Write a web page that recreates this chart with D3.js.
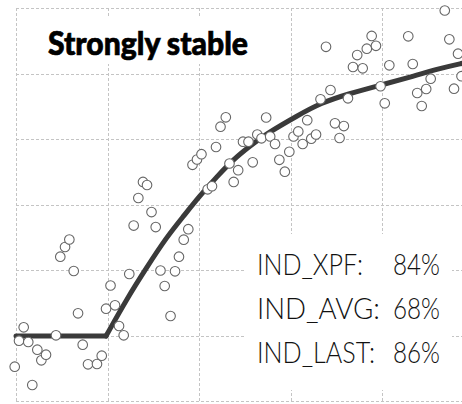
<!DOCTYPE html>
<html>
<head>
<meta charset="utf-8">
<script src="https://cdn.jsdelivr.net/npm/d3@7"></script>
<style>
  html, body { margin: 0; padding: 0; background: #fff; }
  svg { display: block; }
</style>
</head>
<body>
<svg id="chart" width="462" height="404"></svg>
<script>
// Observations (x, y)
const obsX = [-0.14, 0.33, 0.84, 1.34, 1.78, 2.33, 2.77, 3.28, 4.37, 4.84, 5.36, 5.83, 6.31, 6.78, 7.29, 7.87, 8.85, 9.37, 9.84, 10.33,
  10.82, 11.26, 11.77, 12.38, 12.86, 13.37, 13.88, 14.32, 14.81, 15.27, 15.79, 16.25, 16.89, 17.38, 17.81, 18.33, 18.83, 19.29, 19.78, 20.27,
  20.95, 21.42, 21.86, 22.35, 22.93, 23.33, 23.79, 24.28, 24.81, 25.41, 25.87, 26.37, 26.83, 27.34, 27.78, 28.31, 28.78, 29.38, 29.87, 30.33,
  30.85, 31.33, 31.83, 32.27, 32.79, 33.28, 33.88, 34.37, 34.86, 35.36, 35.83, 36.28, 36.83, 37.29, 37.89, 38.34, 38.87, 39.34, 39.84, 40.30,
  40.80, 42.87, 43.36, 43.85, 44.34, 44.83, 45.32, 46.86, 47.36, 47.87, 48.31, 48.69];
const obsY = [5.24, 9.21, 11.25, 9.01, 2.44, 7.83, 6.21, 7.07, 10.03, 22.03, 23.51, 24.66, 19.85, 13.39, 8.60, 5.60, 5.65, 6.92, 14.09, 17.63,
  14.61, 11.45, 10.03, 19.39, 26.79, 30.99, 33.44, 32.98, 28.85, 26.56, 19.92, 17.56, 12.98, 19.80, 22.03, 24.63, 26.23, 36.06, 36.87, 37.68,
  32.32, 32.79, 38.78, 41.88, 43.31, 36.26, 33.44, 35.24, 39.59, 39.59, 36.44, 40.69, 40.11, 43.28, 40.38, 39.24, 36.82, 35.01, 38.05, 40.38,
  41.15, 39.24, 42.87, 40.05, 40.69, 46.06, 54.08, 47.48, 42.40, 40.15, 41.98, 46.21, 50.99, 52.82, 50.79, 53.79, 55.73, 54.23, 48.05, 45.45,
  51.25, 55.68, 51.45, 47.02, 45.04, 47.63, 49.21, 59.62, 55.22, 47.68, 53.02, 49.59];

// Fitted model: flat baseline, then a saturating rise
const flatX = [0, 9.84];
const flatY = [9.92, 9.92];
const riseX = [9.84, 12.10, 14.28, 16.47, 18.28, 20.11, 21.93, 23.75, 25.57, 27.32, 30.79, 33.33, 36.25, 39.89, 43.53, 46.09, 48.74, 50];
const riseY = [9.92, 15.57, 20.38, 25.04, 28.17, 31.37, 34.20, 36.87, 38.93, 40.76, 43.59, 45.50, 46.87, 48.24, 49.62, 50.69, 51.56, 51.9];

const title = "Strongly stable";
const statNames = ["IND_XPF:", "IND_AVG:", "IND_LAST:"];
const statValues = [84, 68, 86];

const xTicks = [0, 10, 20, 30, 40, 50];
const yTicks = [0, 10, 20, 30, 40, 50, 60];

const svg = d3.select("#chart");
const x = d3.scaleLinear().domain([0, 50]).range([16, 473.5]);
const y = d3.scaleLinear().domain([0, 60]).range([401, 8]);

const gridColor = "#c4c4c4";

// Dashed grid built from the axes
const gx = svg.append("g")
  .attr("transform", `translate(0,${y(0)})`)
  .call(d3.axisBottom(x).tickValues(xTicks).tickSize(-(y(0) - y(60))).tickFormat(""));
const gy = svg.append("g")
  .attr("transform", `translate(${x(0)},0)`)
  .call(d3.axisLeft(y).tickValues(yTicks).tickSize(-(x(50) - x(0))).tickFormat(""));
[gx, gy].forEach(g => {
  g.select(".domain").remove();
  g.selectAll(".tick line")
    .attr("stroke", gridColor)
    .attr("stroke-width", 1)
    .attr("stroke-dasharray", "3,2")
    .attr("shape-rendering", "crispEdges");
});

// White panels behind the title and the statistics
svg.append("rect").attr("x", 36).attr("y", 16).attr("width", 228).attr("height", 48).attr("fill", "#fff");
svg.append("rect").attr("x", 245).attr("y", 234).attr("width", 207).attr("height", 156).attr("fill", "#fff");

// Model curve
const line = d3.line().x(d => x(d[0])).y(d => y(d[1]));
svg.append("path")
  .datum(flatX.map((v, i) => [v, flatY[i]]))
  .attr("d", line.curve(d3.curveLinear))
  .attr("fill", "none").attr("stroke", "#3a3a3a").attr("stroke-width", 5).attr("stroke-linecap", "round");
svg.append("path")
  .datum(riseX.map((v, i) => [v, riseY[i]]))
  .attr("d", line.curve(d3.curveBasis))
  .attr("fill", "none").attr("stroke", "#3a3a3a").attr("stroke-width", 5).attr("stroke-linecap", "round").attr("stroke-linejoin", "round");

// Observations
svg.append("g").selectAll("circle")
  .data(obsX.map((v, i) => [v, obsY[i]]))
  .join("circle")
  .attr("cx", d => x(d[0]))
  .attr("cy", d => y(d[1]))
  .attr("r", 4.8)
  .attr("fill", "#fff")
  .attr("stroke", "#666")
  .attr("stroke-width", 1.1);

// Title (a thin stroke adds weight to the bold face)
svg.append("text")
  .attr("x", 48).attr("y", 55)
  .attr("font-family", "Lato, 'DejaVu Sans', sans-serif")
  .attr("font-weight", 900)
  .attr("font-size", 33)
  .attr("fill", "#000")
  .attr("stroke", "#000")
  .attr("stroke-width", 0.7)
  .attr("textLength", 200)
  .attr("lengthAdjust", "spacingAndGlyphs")
  .text(title);

// Statistics
const nameWidths = [106, 123, 118];
const rows = svg.append("g")
  .attr("font-family", "Lato, 'DejaVu Sans', sans-serif")
  .attr("font-weight", 300)
  .attr("font-size", 30)
  .attr("fill", "#111");
statNames.forEach((name, i) => {
  const by = 274.7 + i * 44;
  rows.append("text").attr("x", 257).attr("y", by)
    .attr("textLength", nameWidths[i]).attr("lengthAdjust", "spacingAndGlyphs")
    .text(name);
  rows.append("text").attr("x", 393).attr("y", by)
    .attr("textLength", 47).attr("lengthAdjust", "spacingAndGlyphs")
    .text(statValues[i] + "%");
});
</script>
</body>
</html>
